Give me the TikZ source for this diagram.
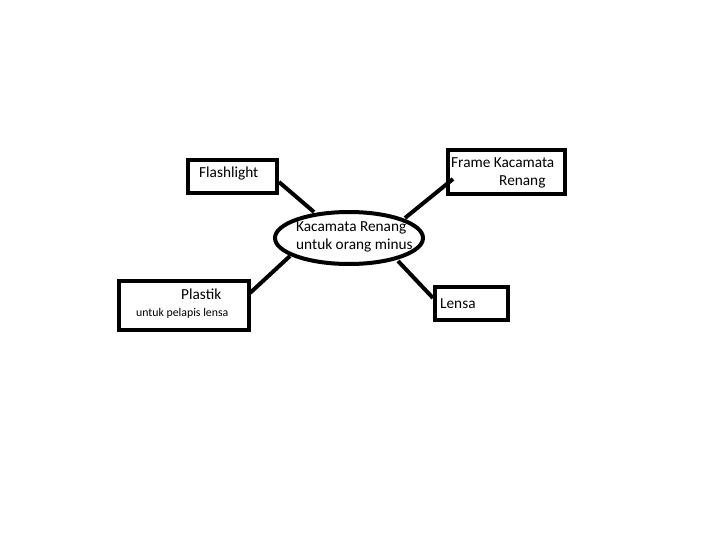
\documentclass[tikz,border=0pt]{standalone}
\usepackage{fontspec}
\setmainfont{Carlito}
\begin{document}
\begin{tikzpicture}[x=1pt,y=-1pt,
  box/.style={draw=black,line width=4pt,fill=white},
  conn/.style={draw=black,line width=4pt},
  txt/.style={inner sep=0pt,anchor=west,font=\fontsize{15.3}{17}\selectfont},
  small/.style={inner sep=0pt,anchor=west,font=\fontsize{11.8}{13}\selectfont}]
\useasboundingbox[fill=white] (0,0) rectangle (724,543);
% shapes
\draw[box] (188,160) rectangle (277,193);
\draw[box] (448,150) rectangle (565,194);
\draw[box] (119,281) rectangle (249,330);
\draw[box] (435,287) rectangle (508,320);
\draw[box] (349,238) ellipse [x radius=74, y radius=26];
% named anchors
\coordinate (fl) at (279,182);
\coordinate (flE) at (314,212);
\coordinate (fr) at (453,179);
\coordinate (frE) at (405,218);
\coordinate (pl) at (250,293);
\coordinate (plE) at (290,256);
\coordinate (le) at (433,298);
\coordinate (leE) at (398,261);
\draw[conn] (fl) -- (flE);
\draw[conn] (fr) -- (frE);
\draw[conn] (pl) -- (plE);
\draw[conn] (le) -- (leE);
% texts
\node[txt] (t1) at (199,174) {Flashlight};
\node[txt] (t2) at (451,163) {Frame Kacamata};
\node[txt] (t3) at (499,182) {Renang};
\node[txt] (t4) at (296,228) {Kacamata Renang};
\node[txt] (t5) at (296,246) {untuk orang minus};
\node[txt] (t6) at (181,294) {Plastik};
\node[small] (t7) at (136,313) {untuk pelapis lensa};
\node[txt] (t8) at (440,304) {Lensa};
\end{tikzpicture}
\end{document}
